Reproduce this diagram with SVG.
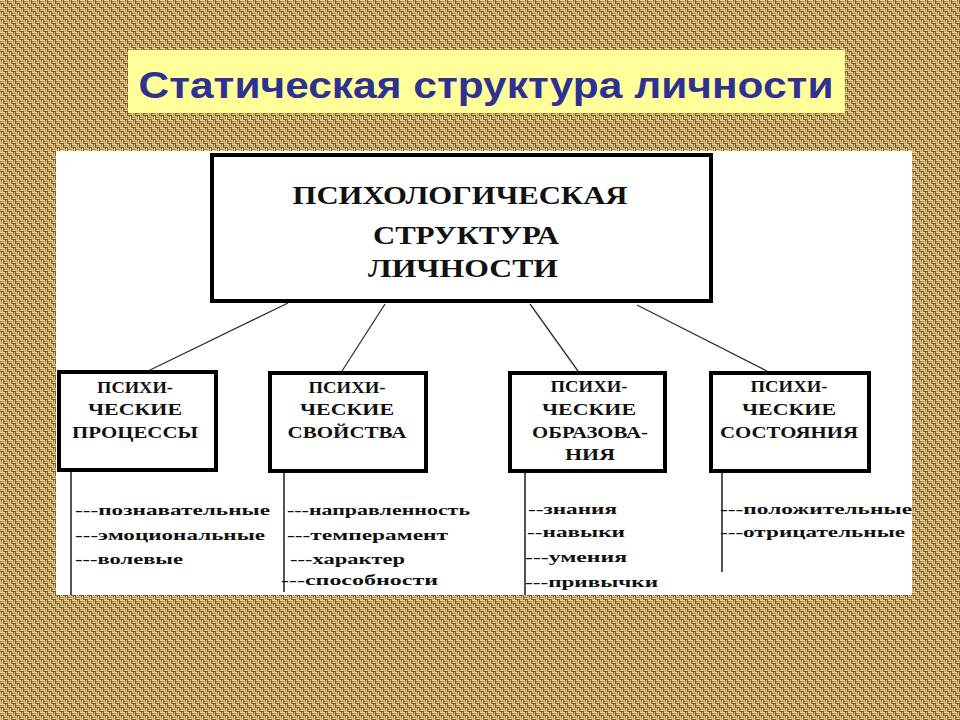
<svg xmlns="http://www.w3.org/2000/svg" width="960" height="720" viewBox="0 0 960 720">
<defs>
<pattern id="burlap" width="8" height="8" patternUnits="userSpaceOnUse">
<rect width="8" height="8" fill="#7E5E2C"/>
<rect x="0" y="0" width="4" height="1" fill="#EED496"/>
<rect x="0" y="2" width="4" height="1" fill="#DCBD7C"/>
<rect x="4" y="0" width="1" height="4" fill="#EAD092"/>
<rect x="6" y="0" width="1" height="4" fill="#D6B776"/>
<rect x="0" y="4" width="1" height="4" fill="#E2C586"/>
<rect x="2" y="4" width="1" height="4" fill="#EFD598"/>
<rect x="4" y="4" width="4" height="1" fill="#E0C384"/>
<rect x="4" y="6" width="4" height="1" fill="#EED496"/>
<rect x="1" y="1" width="3" height="1" fill="#B8954F"/>
<rect x="5" y="5" width="3" height="1" fill="#B08D4A"/>
<rect x="5" y="1" width="1" height="3" fill="#AC8A48"/>
<rect x="1" y="5" width="1" height="3" fill="#B8954F"/>
</pattern>
<style>
.box{fill:#ffffff;stroke:#000000;stroke-width:4}
.head{font-family:"Liberation Serif","Times New Roman",serif;font-weight:bold;font-size:26px;fill:#111111;text-anchor:middle}
.lbl{font-family:"Liberation Serif","Times New Roman",serif;font-weight:bold;font-size:17px;fill:#111111;text-anchor:middle}
.item{font-family:"Liberation Serif","Times New Roman",serif;font-weight:bold;font-size:14px;fill:#111111}
.conn{stroke:#333333;stroke-width:1.3;fill:none}
.stem{stroke:#555555;stroke-width:2;fill:none}
</style>
</defs>
<rect x="0" y="0" width="960" height="720" fill="url(#burlap)"/>
<g id="title">
<rect x="128" y="50" width="717" height="63" fill="#FFFF99"/>
<text x="486" y="98" font-family="Liberation Sans, Arial, sans-serif" font-weight="bold" font-size="37" fill="#2E3192" text-anchor="middle" textLength="695" lengthAdjust="spacingAndGlyphs">Статическая структура личности</text>
</g>
<rect x="56" y="151" width="856" height="444" fill="#ffffff"/>
<g id="connectors">
<line class="conn" x1="288" y1="303" x2="148" y2="371"/>
<line class="conn" x1="385" y1="304" x2="342" y2="371"/>
<line class="conn" x1="530" y1="304" x2="578" y2="371"/>
<line class="conn" x1="637" y1="305" x2="767" y2="371"/>
<line class="stem" x1="71" y1="472" x2="71" y2="595"/>
<line class="stem" x1="284" y1="473" x2="284" y2="592"/>
<line class="stem" x1="525" y1="473" x2="525" y2="595"/>
<line class="stem" x1="722" y1="473" x2="722" y2="572"/>
</g>
<g id="root">
<rect class="box" x="212" y="155" width="499" height="146"/>
<text class="head" x="460" y="204" textLength="335" lengthAdjust="spacingAndGlyphs">ПСИХОЛОГИЧЕСКАЯ</text>
<text class="head" x="466" y="244" textLength="186" lengthAdjust="spacingAndGlyphs">СТРУКТУРА</text>
<text class="head" x="463" y="277" textLength="190" lengthAdjust="spacingAndGlyphs">ЛИЧНОСТИ</text>
</g>
<g id="processes">
<rect class="box" x="59" y="372" width="157" height="98"/>
<text class="lbl" x="135" y="393" textLength="76" lengthAdjust="spacingAndGlyphs">ПСИХИ-</text>
<text class="lbl" x="135" y="415" textLength="94" lengthAdjust="spacingAndGlyphs">ЧЕСКИЕ</text>
<text class="lbl" x="135" y="438" textLength="126" lengthAdjust="spacingAndGlyphs">ПРОЦЕССЫ</text>
<text class="item" x="75" y="515" textLength="195" lengthAdjust="spacingAndGlyphs">---познавательные</text>
<text class="item" x="75" y="540" textLength="190" lengthAdjust="spacingAndGlyphs">---эмоциональные</text>
<text class="item" x="75" y="564" textLength="108" lengthAdjust="spacingAndGlyphs">---волевые</text>
</g>
<g id="properties">
<rect class="box" x="270" y="373" width="156" height="98"/>
<text class="lbl" x="347" y="393" textLength="77" lengthAdjust="spacingAndGlyphs">ПСИХИ-</text>
<text class="lbl" x="347" y="415" textLength="94" lengthAdjust="spacingAndGlyphs">ЧЕСКИЕ</text>
<text class="lbl" x="347" y="438" textLength="119" lengthAdjust="spacingAndGlyphs">СВОЙСТВА</text>
<text class="item" x="287" y="515" textLength="183" lengthAdjust="spacingAndGlyphs">---направленность</text>
<text class="item" x="287" y="540" textLength="161" lengthAdjust="spacingAndGlyphs">---темперамент</text>
<text class="item" x="290" y="564" textLength="115" lengthAdjust="spacingAndGlyphs">---характер</text>
<text class="item" x="281" y="585" textLength="157" lengthAdjust="spacingAndGlyphs">---способности</text>
</g>
<g id="formations">
<rect class="box" x="510" y="373" width="155" height="98"/>
<text class="lbl" x="589" y="392" textLength="77" lengthAdjust="spacingAndGlyphs">ПСИХИ-</text>
<text class="lbl" x="589" y="415" textLength="94" lengthAdjust="spacingAndGlyphs">ЧЕСКИЕ</text>
<text class="lbl" x="590" y="438" textLength="116" lengthAdjust="spacingAndGlyphs">ОБРАЗОВА-</text>
<text class="lbl" x="590" y="460" textLength="50" lengthAdjust="spacingAndGlyphs">НИЯ</text>
<text class="item" x="528" y="514" textLength="89" lengthAdjust="spacingAndGlyphs">--знания</text>
<text class="item" x="527" y="537" textLength="98" lengthAdjust="spacingAndGlyphs">--навыки</text>
<text class="item" x="525" y="562" textLength="102" lengthAdjust="spacingAndGlyphs">---умения</text>
<text class="item" x="525" y="587" textLength="133" lengthAdjust="spacingAndGlyphs">---привычки</text>
</g>
<g id="states">
<rect class="box" x="711" y="373" width="158" height="98"/>
<text class="lbl" x="789" y="392" textLength="77" lengthAdjust="spacingAndGlyphs">ПСИХИ-</text>
<text class="lbl" x="789" y="415" textLength="94" lengthAdjust="spacingAndGlyphs">ЧЕСКИЕ</text>
<text class="lbl" x="789" y="438" textLength="138" lengthAdjust="spacingAndGlyphs">СОСТОЯНИЯ</text>
<text class="item" x="720" y="514" textLength="192" lengthAdjust="spacingAndGlyphs">---положительные</text>
<text class="item" x="720" y="537" textLength="185" lengthAdjust="spacingAndGlyphs">---отрицательные</text>
</g>
</svg>
